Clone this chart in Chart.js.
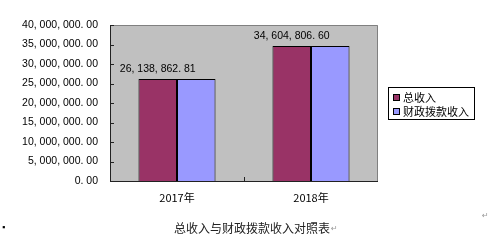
<!DOCTYPE html>
<html>
<head>
<meta charset="utf-8">
<script src="https://cdn.jsdelivr.net/npm/chart.js@4/dist/chart.umd.min.js"></script>
<style>
  html, body { margin: 0; padding: 0; background: #fff; }
  #wrap { width: 499px; height: 240px; position: relative; }
</style>
</head>
<body>
<div id="wrap"><canvas id="c" width="499" height="240"></canvas></div>
<script>
// ---- data ----
const CATEGORIES = ['2017年', '2018年'];
const SERIES_NAMES = ['总收入', '财政拨款收入'];
const TOTAL_INCOME = [26138862.81, 34604806.60];
const GOV_FUNDING = [26138862.81, 34604806.60];
const Y_MAX = 40000000;
const Y_STEP = 5000000;
const TITLE = '总收入与财政拨款收入对照表';

const COLORS = ['#993366', '#9999FF'];
const NUM_FONT = '"Liberation Sans", "DejaVu Sans", sans-serif';
const CJK_FONT = '"Noto Sans CJK SC", "Liberation Sans", sans-serif';

// "26, 138, 862. 81" style, like the original
function fmt(v) {
    const s = v.toFixed(2);
    const [i, d] = s.split('.');
    return i.replace(/\B(?=(\d{3})+(?!\d))/g, ', ') + '. ' + d;
}

const excelLook = {
    id: 'excelLook',
    beforeDatasetsDraw(chart) {
        const { ctx, chartArea: a } = chart;
        ctx.save();
        ctx.fillStyle = '#C0C0C0';
        ctx.fillRect(a.left, a.top, a.right - a.left, a.bottom - a.top);
        // light frame top/right
        ctx.strokeStyle = '#808080';
        ctx.lineWidth = 1;
        ctx.beginPath();
        ctx.moveTo(a.left, a.top + 0.5);
        ctx.lineTo(a.right - 0.5, a.top + 0.5);
        ctx.lineTo(a.right - 0.5, a.bottom);
        ctx.stroke();
        ctx.restore();
    },
    afterDatasetsDraw(chart) {
        const { ctx, chartArea: a, scales } = chart;
        const y = scales.y, x = scales.x;
        ctx.save();
        // axes
        ctx.strokeStyle = '#222';
        ctx.lineWidth = 1;
        ctx.beginPath();
        ctx.moveTo(a.left + 0.5, a.top);
        ctx.lineTo(a.left + 0.5, a.bottom + 0.5);
        ctx.lineTo(a.right, a.bottom + 0.5);
        ctx.stroke();
        // inside ticks on y
        y.ticks.forEach(t => {
            const py = Math.round(y.getPixelForValue(t.value)) + 0.5;
            ctx.beginPath();
            ctx.moveTo(a.left, py);
            ctx.lineTo(a.left + 4, py);
            ctx.stroke();
        });
        // inside ticks at category boundaries
        for (let i = 0; i < CATEGORIES.length - 1; i++) {
            const px = Math.round((x.getPixelForValue(i) + x.getPixelForValue(i + 1)) / 2) + 0.5;
            ctx.beginPath();
            ctx.moveTo(px, a.bottom);
            ctx.lineTo(px, a.bottom - 4);
            ctx.stroke();
        }
        // data labels on first series
        const meta = chart.getDatasetMeta(0);
        ctx.fillStyle = '#000';
        ctx.font = '10.5px ' + NUM_FONT;
        ctx.textAlign = 'center';
        ctx.textBaseline = 'middle';
        meta.data.forEach((bar, i) => {
            ctx.fillText(fmt(TOTAL_INCOME[i]), bar.x, bar.y - 10);
        });

        // legend
        const lx = a.right + 10, ly = 87, lw = 86, lh = 32;
        ctx.fillStyle = '#fff';
        ctx.fillRect(lx, ly, lw, lh);
        ctx.strokeStyle = '#000';
        ctx.strokeRect(lx + 0.5, ly + 0.5, lw, lh);
        ctx.font = '11px ' + CJK_FONT;
        ctx.textAlign = 'left';
        SERIES_NAMES.forEach((name, i) => {
            const cy = ly + 10 + i * 14;
            ctx.fillStyle = COLORS[i];
            ctx.fillRect(lx + 5, cy - 3, 6, 6);
            ctx.strokeStyle = '#000';
            ctx.strokeRect(lx + 5.5, cy - 2.5, 6, 6);
            ctx.fillStyle = '#000';
            ctx.fillText(name, lx + 15, cy + 1);
        });

        // caption below the chart
        ctx.font = '12px ' + CJK_FONT;
        ctx.fillStyle = '#222';
        ctx.textAlign = 'center';
        const capX = (a.left + a.right) / 2 + 8;
        ctx.fillText(TITLE, capX, 228);
        const tw = ctx.measureText(TITLE).width;
        ctx.fillStyle = '#999';
        ctx.font = '8px ' + NUM_FONT;
        ctx.textAlign = 'left';
        ctx.fillText('↵', capX + tw / 2 + 1, 229);
        ctx.fillText('↵', 482, 216);
        ctx.fillStyle = '#000';
        ctx.font = '9px ' + NUM_FONT;
        ctx.fillText('▪', 2, 228);
        ctx.restore();
    }
};

new Chart(document.getElementById('c'), {
    type: 'bar',
    data: {
        labels: CATEGORIES,
        datasets: [
            { label: SERIES_NAMES[0], data: TOTAL_INCOME, backgroundColor: COLORS[0], borderColor: '#000', borderWidth: 1 },
            { label: SERIES_NAMES[1], data: GOV_FUNDING, backgroundColor: COLORS[1], borderColor: '#000', borderWidth: 1 }
        ]
    },
    options: {
        responsive: false,
        animation: false,
        layout: { padding: { top: 25, right: 121, left: 0, bottom: 0 } },
        datasets: { bar: { categoryPercentage: 0.575, barPercentage: 1 } },
        plugins: { legend: { display: false }, tooltip: { enabled: false } },
        scales: {
            x: {
                grid: { display: false },
                border: { display: false },
                ticks: { color: '#000', font: { family: CJK_FONT, size: 11 }, padding: 2 },
                afterFit: s => { s.height = 59; }
            },
            y: {
                min: 0, max: Y_MAX,
                grid: { display: false },
                border: { display: false },
                ticks: {
                    stepSize: Y_STEP, color: '#000', padding: 4,
                    font: { family: NUM_FONT, size: 10.5 },
                    callback: v => fmt(v)
                },
                afterFit: s => { s.width = 110; }
            }
        }
    },
    plugins: [excelLook]
});
</script>
</body>
</html>
